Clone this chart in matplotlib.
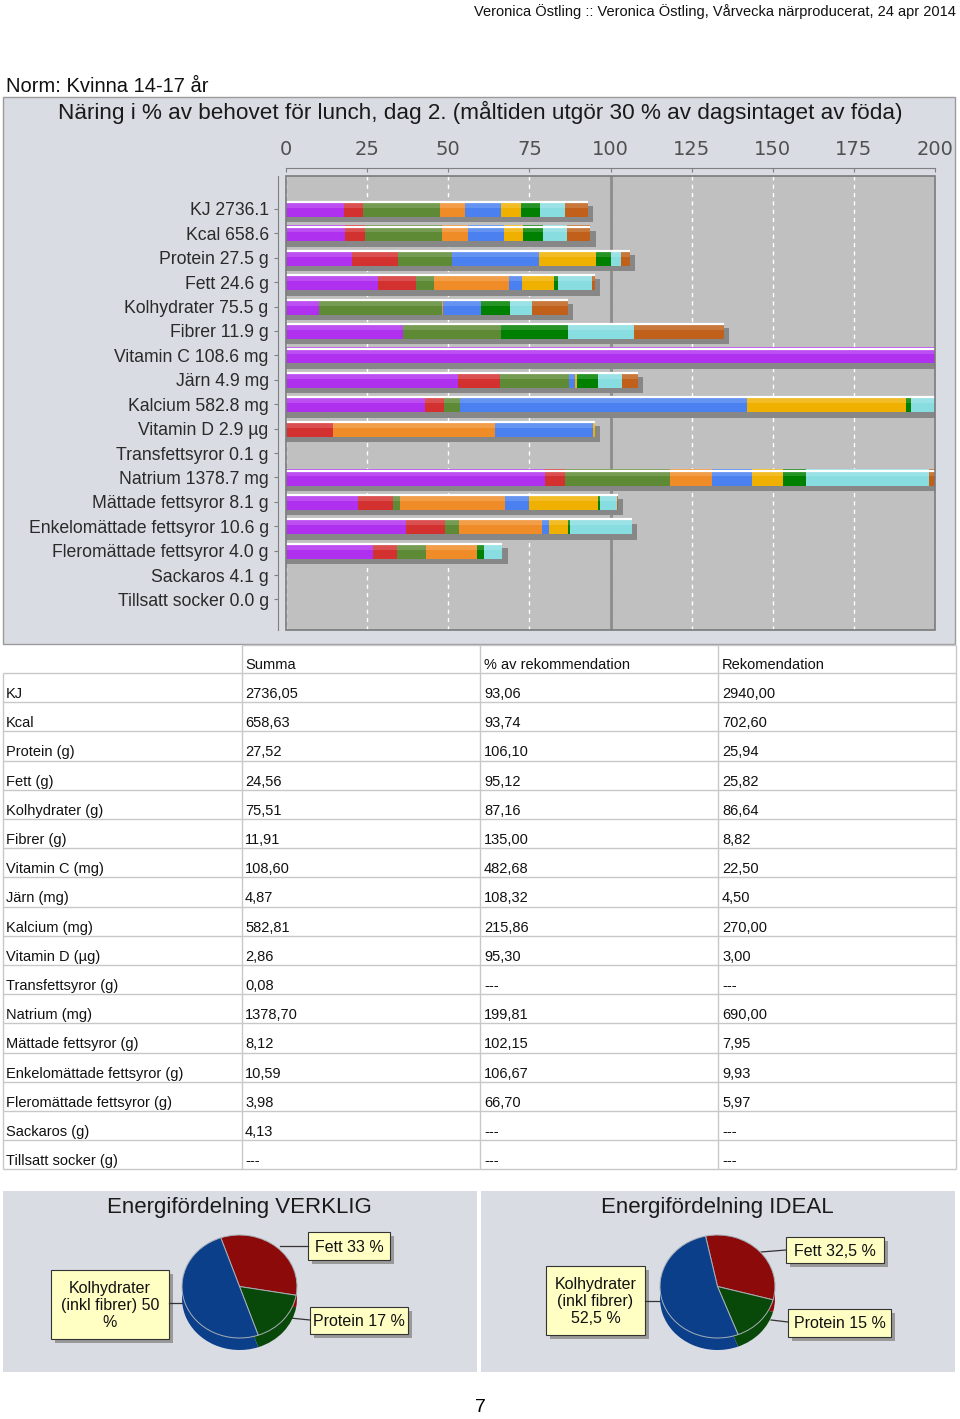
import numpy as np
import matplotlib
matplotlib.use('Agg')
import matplotlib.pyplot as plt
from matplotlib.patches import Rectangle
from matplotlib.colors import to_rgb

W, H = 960, 1419
REG = ['Liberation Sans', 'DejaVu Sans']

# --- bar chart data (% of recommendation, one list per food item) ---
categories = ['KJ 2736.1', 'Kcal 658.6', 'Protein 27.5 g', 'Fett 24.6 g', 'Kolhydrater 75.5 g',
              'Fibrer 11.9 g', 'Vitamin C 108.6 mg', 'Järn 4.9 mg', 'Kalcium 582.8 mg',
              'Vitamin D 2.9 µg', 'Transfettsyror 0.1 g', 'Natrium 1378.7 mg',
              'Mättade fettsyror 8.1 g', 'Enkelomättade fettsyror 10.6 g',
              'Fleromättade fettsyror 4.0 g', 'Sackaros 4.1 g', 'Tillsatt socker 0.0 g']
purple = [17.9, 18.2, 20.2, 28.3, 10.3, 36.2, 482.7, 52.9, 42.9, 0, 0, 79.9, 22.3, 37.0, 26.9, 0, 0]
red    = [5.9, 6.0, 14.2, 11.8, 0, 0, 0, 13.1, 5.7, 14.4, 0, 6.0, 10.8, 11.9, 7.4, 0, 0]
olive  = [23.8, 23.9, 16.7, 5.5, 37.7, 30.1, 0, 21.3, 5.1, 0, 0, 32.5, 2.0, 4.5, 8.7, 0, 0]
orange = [7.6, 7.9, 0, 23.1, 0.3, 0, 0, 0, 0, 50.1, 0, 13.0, 32.5, 25.5, 15.8, 0, 0]
blue   = [11.2, 11.1, 27.0, 4.0, 11.9, 0, 0, 1.7, 88.5, 30.1, 0, 12.2, 7.4, 2.0, 0, 0, 0]
gold   = [5.9, 5.9, 17.4, 9.9, 0, 0, 0, 0.8, 48.8, 0.7, 0, 9.6, 21.3, 6.1, 0, 0, 0]
green  = [6.0, 6.1, 4.8, 1.1, 8.7, 20.7, 0, 6.3, 1.6, 0, 0, 7.0, 0.4, 0.4, 2.3, 0, 0]
cyan   = [7.6, 7.6, 2.9, 10.7, 6.8, 20.1, 0, 7.4, 23.3, 0, 0, 37.8, 5.2, 19.1, 5.6, 0, 0]
brown  = [7.1, 7.1, 2.9, 0.7, 11.2, 27.8, 0, 4.9, 0, 0, 0, 2.0, 0.3, 0, 0, 0, 0]
series = [purple, red, olive, orange, blue, gold, green, cyan, brown]
series_colors = ['#b030f0', '#d33030', '#5e8a35', '#f08c28', '#4a80f0',
                 '#f0b000', '#008000', '#88dde0', '#c0601a']
x_ticks = [0, 25, 50, 75, 100, 125, 150, 175, 200]

# --- table data ---
tab_header = ['', 'Summa', '% av rekommendation', 'Rekomendation']
tab_names = ['KJ', 'Kcal', 'Protein (g)', 'Fett (g)', 'Kolhydrater (g)', 'Fibrer (g)',
             'Vitamin C (mg)', 'Järn (mg)', 'Kalcium (mg)', 'Vitamin D (µg)',
             'Transfettsyror (g)', 'Natrium (mg)', 'Mättade fettsyror (g)',
             'Enkelomättade fettsyror (g)', 'Fleromättade fettsyror (g)', 'Sackaros (g)',
             'Tillsatt socker (g)']
tab_summa = ['2736,05', '658,63', '27,52', '24,56', '75,51', '11,91', '108,60', '4,87',
             '582,81', '2,86', '0,08', '1378,70', '8,12', '10,59', '3,98', '4,13', '---']
tab_pct = ['93,06', '93,74', '106,10', '95,12', '87,16', '135,00', '482,68', '108,32',
           '215,86', '95,30', '---', '199,81', '102,15', '106,67', '66,70', '---', '---']
tab_rek = ['2940,00', '702,60', '25,94', '25,82', '86,64', '8,82', '22,50', '4,50',
           '270,00', '3,00', '---', '690,00', '7,95', '9,93', '5,97', '---', '---']

# --- pie data ---
pie_labels = ['Fett', 'Protein', 'Kolhydrater\n(inkl fibrer)']
verklig = [33, 17, 50]
ideal = [32.5, 15, 52.5]
pie_colors = ['#8c0a0a', '#084808', '#0b3f8a']


def px_axes(fig, x0, y0, x1, y1, **kw):
    return fig.add_axes([x0 / W, 1 - y1 / H, (x1 - x0) / W, (y1 - y0) / H], **kw)


def lighten(c, f):
    r = np.array(to_rgb(c))
    return tuple(r + (1 - r) * f)


def fmt(v):
    return f'{v:g}'.replace('.', ',')


fig = plt.figure(figsize=(W / 100, H / 100), dpi=100)

# background overlay in pixel coordinates
bg = px_axes(fig, 0, 0, W, H, zorder=0)
bg.set_xlim(0, W)
bg.set_ylim(H, 0)
bg.axis('off')

panel_bg = '#d9dce3'
bg.add_patch(Rectangle((3, 97), 952, 547, fc=panel_bg, ec='#9a9a9a', lw=1))
bg.add_patch(Rectangle((3, 1191), 474, 181, fc=panel_bg, ec='none'))
bg.add_patch(Rectangle((481, 1191), 474, 181, fc=panel_bg, ec='none'))

fig.text(956 / W, 1 - 12 / H, 'Veronica Östling :: Veronica Östling, Vårvecka närproducerat, 24 apr 2014',
         ha='right', va='center', fontsize=10.5, family=REG, color='#111111')
fig.text(6 / W, 1 - 87 / H, 'Norm: Kvinna 14-17 år', ha='left', va='center',
         fontsize=14.5, family=REG, color='#111111')
fig.text(480 / W, 1 - 112 / H,
         'Näring i % av behovet för lunch, dag 2. (måltiden utgör 30 % av dagsintaget av föda)',
         ha='center', va='center', fontsize=16.2, family=REG, color='#1a1a1a')
fig.text(480 / W, 1 - 1408 / H, '7', ha='center', va='center', fontsize=14, family=REG)

# --- stacked bar chart ---
ax = px_axes(fig, 286, 176, 935, 630, zorder=2)
ax.set_facecolor('#c0c0c0')
y = np.arange(len(categories))
h = 0.66
totals = np.sum(np.array(series, dtype=float), axis=0)

ax.barh(y + 0.22, np.where(totals > 0, totals + 1.6, 0), height=h, color='#878787', lw=0, zorder=2)
left = np.zeros(len(categories))
for vals, col in zip(series, series_colors):
    vals = np.array(vals, dtype=float)
    ax.barh(y, vals, left=left, height=h, color=col, lw=0, zorder=3)
    ax.barh(y - h / 2 + h * 0.22, vals, left=left, height=h * 0.44,
            color=lighten(col, 0.15), lw=0, zorder=3.1)
    left += vals
has = totals > 0
ax.hlines(y[has] - h / 2 + 0.05, 0, totals[has], color='white', lw=1.6, zorder=4)

ax.set_xlim(0, 200)
ax.set_ylim(17.25, -1.35)
ax.set_xticks(x_ticks)
ax.xaxis.tick_top()
ax.set_axisbelow(True)
ax.grid(axis='x', color='white', ls=(0, (3, 3)), lw=1)
ax.axvline(100, color='#8c8c8c', lw=2, zorder=1.5)
ax.set_yticks(y, categories)
for s in ['right', 'bottom']:
    ax.spines[s].set_visible(False)
for s in ['left', 'top']:
    ax.spines[s].set_position(('outward', 5.5))
    ax.spines[s].set_color('#808080')
ax.add_patch(Rectangle((0, 0), 1, 1, transform=ax.transAxes, fill=False,
                       ec='#7a7a7a', lw=1.2, clip_on=False, zorder=5))
ax.tick_params(axis='x', direction='in', length=3, color='#808080', labelsize=14,
               labelcolor='#505050', pad=7)
ax.tick_params(axis='y', direction='out', length=3, color='#808080', labelsize=12.7,
               labelcolor='#2a2a2a', pad=4)
for lbl in ax.get_yticklabels():
    lbl.set_family(REG)

# --- table ---
row_h = 29.2
top0 = 673
col_x = [6, 245, 484, 722]
n = len(tab_names)
line_c = '#c8c8c8'
bg.hlines([645], 242, 956, color=line_c, lw=1)
bg.hlines(top0 + row_h * np.arange(n + 1), 3, 956, color=line_c, lw=1)
bg.vlines([3], top0, top0 + row_h * n, color=line_c, lw=1)
bg.vlines([242, 480, 718, 956], 645, top0 + row_h * n, color=line_c, lw=1)
for cx, t in zip(col_x, tab_header):
    bg.text(cx, 665, t, ha='left', va='center', fontsize=10.5, family=REG, color='#111111')
for k in range(n):
    yc = top0 + k * row_h + 21
    for cx, t in zip(col_x, [tab_names[k], tab_summa[k], tab_pct[k], tab_rek[k]]):
        bg.text(cx, yc, t, ha='left', va='center', fontsize=10.5, family=REG, color='#111111')


# --- pies ---
def draw_pie(cx, title, vals, start, boxes, lines):
    fig.text(cx / W, 1 - 1207 / H, title, ha='center', va='center', fontsize=16,
             family=REG, color='#1a1a1a')
    pa = px_axes(fig, cx - 67.5, 1225, cx + 67.5, 1360, zorder=2)
    depth = 0.233
    pa.pie(vals, colors=pie_colors, startangle=start, counterclock=False,
           center=(0, -depth), wedgeprops=dict(lw=0))
    pa.pie(vals, colors=pie_colors, startangle=start, counterclock=False,
           wedgeprops=dict(edgecolor='#a8b0b8', lw=0.7))
    pa.set_aspect('auto')
    pa.set_xlim(-1.174, 1.174)
    pa.set_ylim(-1.427, 1.194)
    pa.axis('off')
    for (x0, y0, x1, y1), txt in boxes:
        bg.add_patch(Rectangle((x0 + 4, y0 + 4), x1 - x0, y1 - y0, fc='#999999', ec='none'))
        bg.add_patch(Rectangle((x0, y0), x1 - x0, y1 - y0, fc='#ffffc4', ec='#333333', lw=0.8))
        bg.text((x0 + x1) / 2, (y0 + y1) / 2 + 1, txt, ha='center', va='center',
                fontsize=11.5, family=REG, color='#111111', linespacing=1.15)
    for (x0, y0, x1, y1) in lines:
        bg.plot([x0, x1], [y0, y1], color='#333333', lw=0.9)


draw_pie(239.5, 'Energifördelning VERKLIG', verklig, 109,
         [((51, 1270, 169, 1339), f'{pie_labels[2].split(chr(10))[0]}\n(inkl fibrer) {fmt(verklig[2])}\n%'),
          ((308, 1232, 390, 1260), f'{pie_labels[0]} {fmt(verklig[0])} %'),
          ((310, 1307, 408, 1334), f'{pie_labels[1]} {fmt(verklig[1])} %')],
         [(169, 1303, 190, 1303), (280, 1246, 308, 1246), (290, 1318, 310, 1320)])
draw_pie(717.5, 'Energifördelning IDEAL', ideal, 102,
         [((546, 1266, 645, 1335), f'{pie_labels[2]}\n{fmt(ideal[2])} %'),
          ((786, 1237, 884, 1263), f'{pie_labels[0]} {fmt(ideal[0])} %'),
          ((788, 1309, 891, 1337), f'{pie_labels[1]} {fmt(ideal[1])} %')],
         [(645, 1301, 668, 1301), (761, 1252, 786, 1250), (771, 1320, 788, 1322)])

fig.savefig('out.png', dpi=100, facecolor='white')
